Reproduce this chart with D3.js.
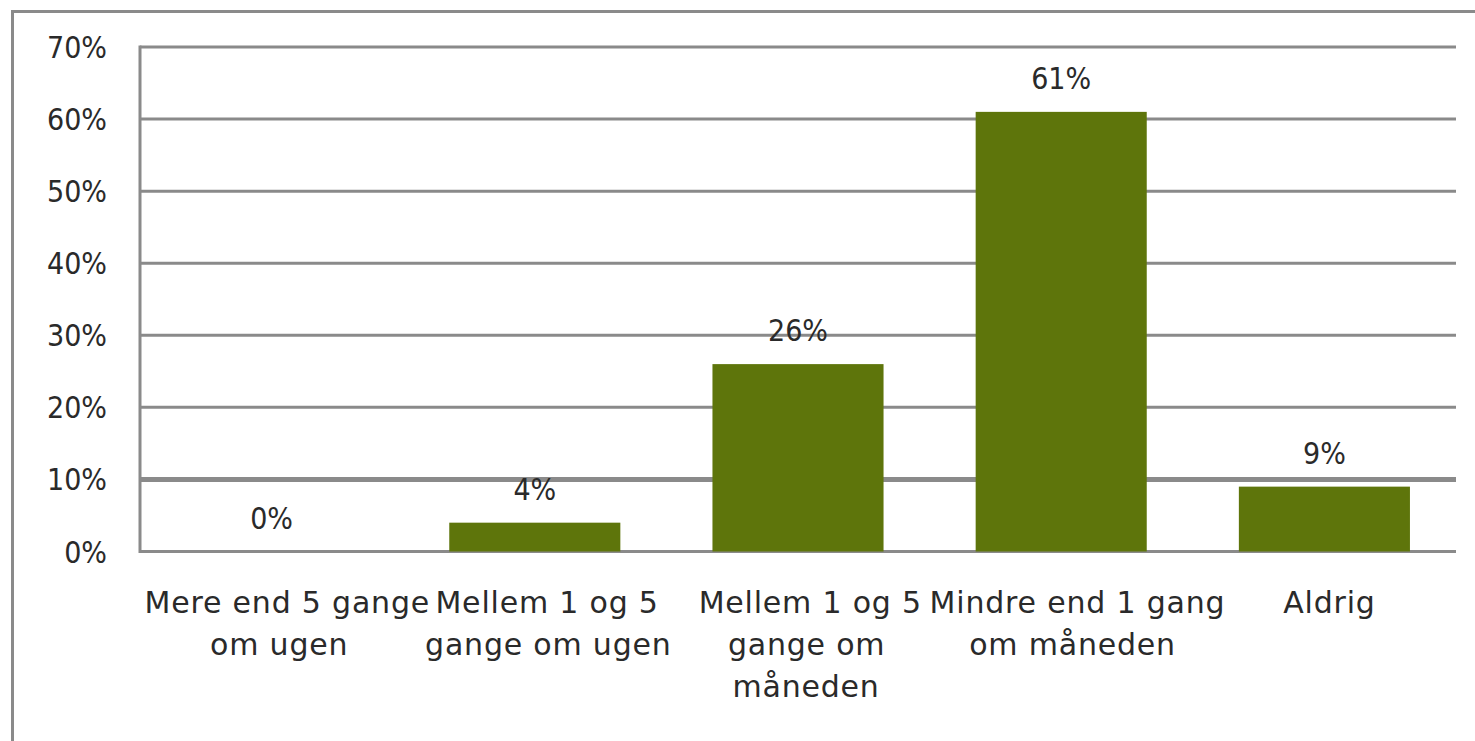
<!DOCTYPE html>
<html>
<head>
<meta charset="utf-8">
<script src="https://cdn.jsdelivr.net/npm/d3@7/dist/d3.min.js"></script>
<style>
  body { margin: 0; background: #fff; }
  svg { display: block; }
  .cond { font-family: "DejaVu Sans Condensed", "DejaVu Sans", sans-serif; font-stretch: condensed; }
  .reg { font-family: "DejaVu Sans", sans-serif; letter-spacing: 0.8px; }
</style>
</head>
<body>
<div id="wrapper"></div>
<script>
// data
const categories = ["c1", "c2", "c3", "c4", "c5"];
const categoryLines = [
    ["Mere end 5 gange", "om ugen"],
    ["Mellem 1 og 5", "gange om ugen"],
    ["Mellem 1 og 5", "gange om", "måneden"],
    ["Mindre end 1 gang", "om måneden"],
    ["Aldrig"]
];
const values = [0, 0.04, 0.26, 0.61, 0.09];
const valueLabels = ["0%", "4%", "26%", "61%", "9%"];
const yTicks = [0, 0.1, 0.2, 0.3, 0.4, 0.5, 0.6, 0.7];

function drawChart() {
    const dimensions = {
        width: 1475,
        height: 741,
        plotLeft: 140,
        plotRight: 1456,
        plotTop: 47,
        plotBottom: 551.5
    };

    const wrapper = d3.select("#wrapper")
        .append("svg")
        .attr("width", dimensions.width)
        .attr("height", dimensions.height);

    // outer frame (runs off the right and bottom edge)
    wrapper.append("rect")
        .attr("x", 12.5)
        .attr("y", 11.5)
        .attr("width", dimensions.width + 20)
        .attr("height", dimensions.height + 20)
        .attr("fill", "none")
        .attr("stroke", "#8a8a8a")
        .attr("stroke-width", 3);

    const xScale = d3.scaleBand()
        .domain(categories)
        .range([dimensions.plotLeft, dimensions.plotRight])
        .paddingInner(0.35)
        .paddingOuter(0.175);

    const yScale = d3.scaleLinear()
        .domain([0, 0.7])
        .range([dimensions.plotBottom, dimensions.plotTop]);

    // gridlines
    wrapper.append("g")
        .selectAll("line")
        .data(yTicks)
        .join("line")
        .attr("x1", dimensions.plotLeft)
        .attr("x2", dimensions.plotRight)
        .attr("y1", d => yScale(d))
        .attr("y2", d => yScale(d))
        .attr("stroke", "#8a8a8a")
        .attr("stroke-width", d => d === 0.1 ? 5 : 3);

    // left axis line
    wrapper.append("line")
        .attr("x1", dimensions.plotLeft)
        .attr("x2", dimensions.plotLeft)
        .attr("y1", yScale(0.7) - 1.5)
        .attr("y2", yScale(0) + 1.5)
        .attr("stroke", "#8a8a8a")
        .attr("stroke-width", 3);

    // y tick labels
    wrapper.append("g")
        .selectAll("text")
        .data(yTicks)
        .join("text")
        .attr("class", "cond")
        .attr("x", 107)
        .attr("y", d => yScale(d) + 11)
        .attr("text-anchor", "end")
        .attr("font-size", "30px")
        .attr("fill", "#2a2a2a")
        .text(d => d3.format(".0%")(d));

    // bars
    wrapper.append("g")
        .selectAll("rect")
        .data(values)
        .join("rect")
        .attr("x", (d, i) => xScale(categories[i]))
        .attr("y", d => yScale(d))
        .attr("width", xScale.bandwidth())
        .attr("height", d => yScale(0) - yScale(d))
        .attr("fill", "#5e750b");

    // value labels
    wrapper.append("g")
        .selectAll("text")
        .data(values)
        .join("text")
        .attr("class", "cond")
        .attr("x", (d, i) => xScale(categories[i]) + xScale.bandwidth() / 2)
        .attr("y", d => yScale(d) - 23)
        .attr("text-anchor", "middle")
        .attr("font-size", "30px")
        .attr("fill", "#2a2a2a")
        .text((d, i) => valueLabels[i]);

    // category labels (wrapped lines, centred slightly right like the original)
    const catGroup = wrapper.append("g");
    categoryLines.forEach((lines, i) => {
        const cx = xScale(categories[i]) + xScale.bandwidth() / 2;
        lines.forEach((line, j) => {
            const t = catGroup.append("text")
                .attr("class", "reg")
                .attr("y", 613 + j * 42)
                .attr("font-size", "30px")
                .attr("fill", "#2a2a2a")
                .text(line);
            const w = t.node().getComputedTextLength();
            t.attr("x", cx - w * 0.445);
        });
    });
}

drawChart();
</script>
</body>
</html>
